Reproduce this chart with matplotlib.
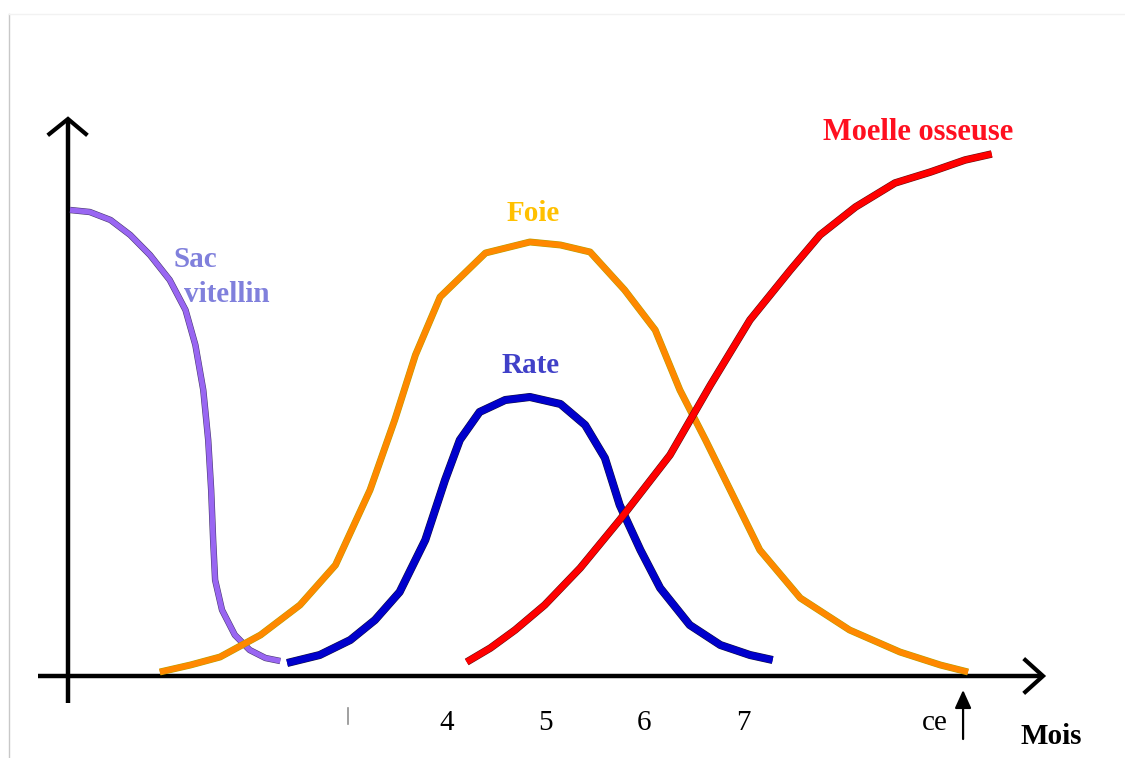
import matplotlib
matplotlib.use("Agg")
import matplotlib.pyplot as plt
import matplotlib.patheffects as pe
from matplotlib.lines import Line2D

# x in months, y in arbitrary activity units (0 = axis)
sac_x = [0.18, 0.38, 0.59, 0.79, 0.99, 1.19, 1.35, 1.45, 1.53, 1.58, 1.61, 1.63,
         1.65, 1.72, 1.85, 2.00, 2.16, 2.31]
sac_y = [93.2, 92.8, 91.2, 88.2, 84.2, 79.2, 73.2, 66.2, 57.2, 47.2, 37.2, 27.2,
         19.2, 13.2, 8.2, 5.2, 3.6, 3.0]

foie_x = [1.09, 1.40, 1.70, 2.11, 2.51, 2.87, 3.22, 3.47, 3.68, 3.93, 4.39, 4.84,
          5.15, 5.45, 5.80, 6.11, 6.36, 6.62, 6.87, 7.17, 7.58, 8.08, 8.59, 9.00, 9.28]
foie_y = [0.8, 2.2, 3.8, 8.2, 14.2, 22.2, 37.2, 51.2, 64.2, 75.8, 84.6, 86.8,
          86.2, 84.8, 77.2, 69.2, 57.2, 47.2, 37.2, 25.2, 15.6, 9.2, 4.8, 2.2, 0.8]

rate_x = [2.38, 2.71, 3.02, 3.27, 3.52, 3.78, 3.98, 4.13, 4.33, 4.59, 4.84, 5.15,
          5.40, 5.60, 5.75, 5.96, 6.16, 6.46, 6.77, 7.07, 7.30]
rate_y = [2.6, 4.2, 7.2, 11.2, 16.8, 27.2, 39.2, 47.2, 52.8, 55.2, 55.8, 54.4,
          50.2, 43.6, 34.2, 25.2, 17.6, 10.2, 6.2, 4.2, 3.2]

moelle_x = [4.20, 4.44, 4.69, 4.99, 5.35, 5.75, 6.26, 6.67, 7.07, 7.48, 7.78,
            8.14, 8.54, 8.90, 9.25, 9.52]
moelle_y = [2.8, 5.6, 9.2, 14.2, 21.6, 31.2, 44.2, 58.2, 71.2, 81.2, 88.2,
            93.8, 98.6, 100.8, 103.2, 104.4]

tick_months = [4, 5, 6, 7]
tick_labels = ["4", "5", "6", "7"]
birth_month = 9.23

fig = plt.figure(figsize=(11.25, 7.58), dpi=100)
ax = fig.add_axes([0, 0, 1, 1])
ax.axis("off")
ax.set_xlim(-0.530, 10.871)
ax.set_ylim(-16.4, 135.2)

# faint page border
fig.add_artist(Line2D([0.008, 0.008], [0.0, 0.981], color="#c8c8c8", lw=1.0))
fig.add_artist(Line2D([0.008, 1.0], [0.981, 0.981], color="#f2f2f2", lw=1.0))

# axes with open arrowheads
axis_kw = dict(color="black", lw=3.2, solid_capstyle="butt")
ax.plot([-0.145, 10.02], [0, 0], **axis_kw)
ax.plot([9.86, 10.04, 9.86], [3.2, 0, -3.2], color="black", lw=3.0,
        solid_joinstyle="miter")
ax.plot([0.159, 0.159], [-5.4, 111.0], **axis_kw)
ax.plot([-0.03, 0.159, 0.34], [108.4, 111.4, 108.4], color="black", lw=3.0,
        solid_joinstyle="miter")


def curve(x, y, color, edge, lw):
    ax.plot(x, y, color=color, lw=lw, solid_capstyle="butt",
            solid_joinstyle="round",
            path_effects=[pe.Stroke(linewidth=lw + 0.8, foreground=edge),
                          pe.Normal()])


curve(sac_x, sac_y, "#9966f2", "#4a3a70", 3.8)
curve(foie_x, foie_y, "#ff8800", "#b8a000", 4.2)
curve(rate_x, rate_y, "#0000cc", "#101040", 5.0)
curve(moelle_x, moelle_y, "#ff0000", "#601010", 4.6)

lab = dict(family="Liberation Serif", fontweight="bold", fontsize=21,
           ha="left", va="baseline")
ax.text(7.81, 107.2, "Moelle osseuse", color="#ff1020",
        **{**lab, "fontsize": 22})
ax.text(4.60, 91.0, "Foie", color="#ffc000", **lab)
ax.text(4.55, 60.6, "Rate", color="#4040c8", **lab)
ax.text(1.23, 81.8, "Sac", color="#8080dc", **lab)
ax.text(1.335, 74.8, "vitellin", color="#8080dc", **lab)

for m, t in zip(tick_months, tick_labels):
    ax.text(m, -10.8, t, family="Liberation Serif", fontsize=21,
            ha="center", va="baseline")
ax.text(8.81, -10.8, "ce", family="Liberation Serif", fontsize=21,
        ha="left", va="baseline")
ax.plot([3.0, 3.0], [-6.4, -9.6], color="#909090", lw=1.2)

ax.annotate("", xy=(birth_month, -2.8), xytext=(birth_month, -12.6),
            arrowprops=dict(arrowstyle="-|>,head_length=1.1,head_width=0.5",
                            color="black", lw=1.6, shrinkA=0, shrinkB=0))
ax.text(9.81, -13.6, "Mois", family="Liberation Serif", fontweight="bold",
        fontsize=21, ha="left", va="baseline")

fig.savefig("out.png", dpi=100)
